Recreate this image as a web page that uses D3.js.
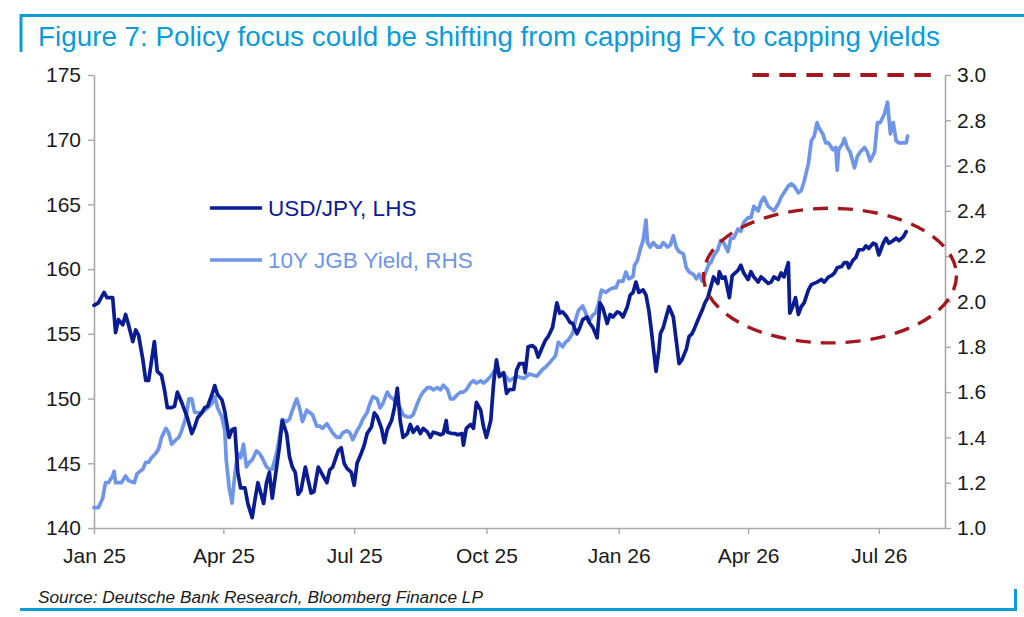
<!DOCTYPE html>
<html><head><meta charset="utf-8">
<script src="https://cdn.jsdelivr.net/npm/d3@7"></script>
<style>
html,body{margin:0;padding:0;background:#fff;}
svg{display:block;font-family:"Liberation Sans",Arial,Helvetica,sans-serif;}
</style></head><body>
<svg id="chart" width="1024" height="617"></svg>
<script>
// ---------------- DATA ----------------
const titleText = "Figure 7: Policy focus could be shifting from capping FX to capping yields";
const sourceText = "Source: Deutsche Bank Research, Bloomberg Finance LP";
const seriesNames = ["USD/JPY, LHS", "10Y JGB Yield, RHS"];

const usdDates = ["2025-01-01","2025-01-04","2025-01-08","2025-01-10","2025-01-14","2025-01-16","2025-01-18","2025-01-21","2025-01-23","2025-01-25","2025-01-28","2025-01-30","2025-02-01","2025-02-04","2025-02-06","2025-02-08","2025-02-12","2025-02-14","2025-02-17","2025-02-19","2025-02-21","2025-02-24","2025-02-26","2025-02-28","2025-03-03","2025-03-05","2025-03-07","2025-03-10","2025-03-12","2025-03-14","2025-03-17","2025-03-19","2025-03-21","2025-03-24","2025-03-26","2025-03-28","2025-03-31","2025-04-02","2025-04-03","2025-04-05","2025-04-07","2025-04-09","2025-04-10","2025-04-11","2025-04-13","2025-04-16","2025-04-18","2025-04-21","2025-04-23","2025-04-25","2025-04-27","2025-04-29","2025-05-01","2025-05-03","2025-05-05","2025-05-08","2025-05-10","2025-05-12","2025-05-15","2025-05-17","2025-05-19","2025-05-21","2025-05-23","2025-05-25","2025-05-28","2025-05-30","2025-06-01","2025-06-03","2025-06-06","2025-06-08","2025-06-12","2025-06-14","2025-06-16","2025-06-20","2025-06-22","2025-06-24","2025-06-26","2025-06-29","2025-07-01","2025-07-03","2025-07-06","2025-07-08","2025-07-10","2025-07-13","2025-07-15","2025-07-17","2025-07-20","2025-07-22","2025-07-24","2025-07-27","2025-07-29","2025-07-31","2025-08-02","2025-08-04","2025-08-07","2025-08-09","2025-08-11","2025-08-14","2025-08-16","2025-08-18","2025-08-21","2025-08-23","2025-08-25","2025-08-28","2025-08-30","2025-09-01","2025-09-03","2025-09-04","2025-09-07","2025-09-09","2025-09-11","2025-09-14","2025-09-15","2025-09-17","2025-09-20","2025-09-22","2025-09-24","2025-09-27","2025-09-29","2025-10-01","2025-10-04","2025-10-06","2025-10-08","2025-10-10","2025-10-13","2025-10-15","2025-10-17","2025-10-20","2025-10-22","2025-10-24","2025-10-27","2025-10-28","2025-10-30","2025-11-02","2025-11-04","2025-11-06","2025-11-09","2025-11-11","2025-11-13","2025-11-16","2025-11-19","2025-11-21","2025-11-23","2025-11-26","2025-11-28","2025-11-30","2025-12-03","2025-12-05","2025-12-07","2025-12-10","2025-12-12","2025-12-14","2025-12-17","2025-12-19","2025-12-21","2025-12-24","2025-12-26","2025-12-28","2025-12-31","2026-01-02","2026-01-04","2026-01-07","2026-01-09","2026-01-11","2026-01-13","2026-01-15","2026-01-18","2026-01-20","2026-01-22","2026-01-24","2026-01-25","2026-01-27","2026-01-29","2026-01-30","2026-02-01","2026-02-03","2026-02-05","2026-02-08","2026-02-10","2026-02-12","2026-02-14","2026-02-17","2026-02-19","2026-02-21","2026-02-23","2026-02-26","2026-02-28","2026-03-02","2026-03-04","2026-03-06","2026-03-08","2026-03-11","2026-03-12","2026-03-14","2026-03-16","2026-03-19","2026-03-21","2026-03-25","2026-03-27","2026-03-29","2026-04-01","2026-04-03","2026-04-05","2026-04-08","2026-04-10","2026-04-12","2026-04-15","2026-04-17","2026-04-19","2026-04-22","2026-04-24","2026-04-26","2026-04-29","2026-04-30","2026-05-02","2026-05-04","2026-05-06","2026-05-08","2026-05-10","2026-05-13","2026-05-15","2026-05-17","2026-05-19","2026-05-22","2026-05-24","2026-05-27","2026-05-29","2026-05-31","2026-06-02","2026-06-05","2026-06-07","2026-06-09","2026-06-10","2026-06-13","2026-06-15","2026-06-17","2026-06-20","2026-06-22","2026-06-24","2026-06-27","2026-06-29","2026-07-01","2026-07-04","2026-07-06","2026-07-08","2026-07-11","2026-07-13","2026-07-15","2026-07-18","2026-07-20"];
const usdValues = [157.2,157.4,158.2,157.8,157.8,155.1,156.1,155.7,156.5,155.7,154.4,155.3,154.9,153.0,151.4,151.4,154.4,152.1,151.8,150.7,149.3,149.3,149.4,150.5,149.7,149.1,148.5,147.3,147.8,148.5,148.9,149.3,149.4,150.3,151.0,150.3,149.9,149.0,148.3,147.0,147.6,147.7,146.0,144.3,143.1,143.1,141.9,140.8,142.2,143.5,142.7,141.9,143.5,144.3,142.3,144.7,146.3,148.3,147.3,145.5,144.7,144.3,142.6,142.9,144.7,143.7,142.7,142.8,144.7,144.3,143.5,144.5,144.7,146.0,146.2,145.0,144.6,144.3,143.3,145.0,145.8,146.4,147.3,147.8,148.9,148.6,147.7,146.6,147.6,148.3,149.3,150.8,148.3,147.0,147.3,148.0,147.4,147.8,147.3,147.7,147.4,147.0,147.4,147.3,147.2,147.3,148.3,147.4,147.3,147.3,147.2,147.3,146.4,147.7,148.0,147.7,149.7,149.1,147.8,147.0,148.3,151.2,153.0,151.7,152.0,150.4,150.7,150.7,152.2,152.7,152.7,152.0,154.0,154.1,153.9,153.2,154.0,154.5,154.8,155.5,157.4,156.6,156.7,156.3,155.9,155.8,155.0,155.5,156.1,156.3,155.8,155.5,154.7,157.4,157.0,155.8,156.5,156.3,156.7,156.6,156.3,157.1,158.0,158.2,159.0,158.2,158.4,158.0,156.8,155.0,154.0,152.1,153.8,155.0,155.5,156.3,157.1,156.3,154.5,152.7,153.0,153.8,154.8,155.0,155.5,156.3,156.8,157.4,157.8,158.6,159.4,158.9,159.8,159.3,159.4,157.8,159.5,159.9,160.3,159.7,159.2,159.8,159.4,159.0,159.4,159.2,158.9,159.0,159.4,159.2,159.7,159.4,160.5,156.6,157.1,157.8,156.5,157.1,157.4,158.4,158.8,158.9,159.0,159.2,159.0,159.4,159.5,159.7,160.1,160.2,160.5,160.5,160.1,160.7,160.9,161.5,161.5,161.8,161.6,162.0,161.9,161.1,162.0,162.4,162.0,162.2,162.4,162.2,162.5,162.9];

const jgbDates = ["2025-01-01","2025-01-04","2025-01-07","2025-01-09","2025-01-11","2025-01-14","2025-01-15","2025-01-16","2025-01-20","2025-01-23","2025-01-25","2025-01-29","2025-01-31","2025-02-04","2025-02-06","2025-02-08","2025-02-10","2025-02-13","2025-02-15","2025-02-17","2025-02-20","2025-02-22","2025-02-24","2025-02-27","2025-03-01","2025-03-03","2025-03-06","2025-03-08","2025-03-10","2025-03-12","2025-03-14","2025-03-17","2025-03-19","2025-03-21","2025-03-24","2025-03-26","2025-03-28","2025-03-31","2025-04-02","2025-04-03","2025-04-05","2025-04-07","2025-04-09","2025-04-11","2025-04-13","2025-04-15","2025-04-17","2025-04-19","2025-04-21","2025-04-24","2025-04-26","2025-04-28","2025-05-01","2025-05-03","2025-05-05","2025-05-08","2025-05-10","2025-05-12","2025-05-15","2025-05-17","2025-05-19","2025-05-22","2025-05-24","2025-05-26","2025-05-29","2025-05-31","2025-06-02","2025-06-05","2025-06-07","2025-06-09","2025-06-12","2025-06-14","2025-06-16","2025-06-19","2025-06-21","2025-06-23","2025-06-26","2025-06-28","2025-06-30","2025-07-03","2025-07-05","2025-07-07","2025-07-10","2025-07-12","2025-07-14","2025-07-17","2025-07-19","2025-07-21","2025-07-24","2025-07-26","2025-07-28","2025-07-31","2025-08-02","2025-08-04","2025-08-07","2025-08-09","2025-08-11","2025-08-14","2025-08-16","2025-08-18","2025-08-21","2025-08-23","2025-08-25","2025-08-28","2025-08-30","2025-09-01","2025-09-04","2025-09-06","2025-09-08","2025-09-11","2025-09-13","2025-09-15","2025-09-17","2025-09-20","2025-09-22","2025-09-24","2025-09-27","2025-09-29","2025-10-01","2025-10-04","2025-10-06","2025-10-08","2025-10-10","2025-10-13","2025-10-17","2025-10-22","2025-10-27","2025-10-31","2025-11-05","2025-11-09","2025-11-11","2025-11-14","2025-11-18","2025-11-20","2025-11-23","2025-11-25","2025-11-27","2025-11-30","2025-12-02","2025-12-04","2025-12-07","2025-12-09","2025-12-11","2025-12-14","2025-12-16","2025-12-18","2025-12-20","2025-12-23","2025-12-25","2025-12-28","2025-12-30","2026-01-01","2026-01-04","2026-01-06","2026-01-08","2026-01-11","2026-01-12","2026-01-14","2026-01-16","2026-01-18","2026-01-20","2026-01-21","2026-01-23","2026-01-25","2026-01-28","2026-01-30","2026-02-01","2026-02-04","2026-02-06","2026-02-08","2026-02-10","2026-02-12","2026-02-15","2026-02-17","2026-02-19","2026-02-22","2026-02-24","2026-02-26","2026-02-28","2026-03-02","2026-03-05","2026-03-06","2026-03-08","2026-03-11","2026-03-13","2026-03-15","2026-03-18","2026-03-20","2026-03-22","2026-03-25","2026-03-27","2026-03-29","2026-04-01","2026-04-03","2026-04-05","2026-04-08","2026-04-10","2026-04-12","2026-04-15","2026-04-17","2026-04-19","2026-04-22","2026-04-24","2026-04-26","2026-04-29","2026-05-01","2026-05-03","2026-05-06","2026-05-08","2026-05-10","2026-05-13","2026-05-15","2026-05-17","2026-05-19","2026-05-20","2026-05-23","2026-05-25","2026-05-27","2026-05-30","2026-06-01","2026-06-02","2026-06-03","2026-06-06","2026-06-07","2026-06-09","2026-06-11","2026-06-14","2026-06-16","2026-06-18","2026-06-21","2026-06-23","2026-06-25","2026-06-28","2026-06-30","2026-07-02","2026-07-05","2026-07-07","2026-07-09","2026-07-11","2026-07-13","2026-07-15","2026-07-18","2026-07-20","2026-07-21"];
const jgbValues = [1.09,1.09,1.13,1.20,1.20,1.23,1.25,1.20,1.20,1.23,1.21,1.20,1.24,1.26,1.29,1.29,1.31,1.33,1.35,1.40,1.44,1.42,1.37,1.39,1.40,1.43,1.49,1.57,1.57,1.51,1.51,1.51,1.52,1.53,1.55,1.58,1.53,1.49,1.43,1.30,1.18,1.11,1.24,1.33,1.31,1.37,1.27,1.29,1.30,1.34,1.33,1.31,1.27,1.26,1.26,1.33,1.40,1.48,1.47,1.48,1.52,1.57,1.53,1.47,1.52,1.51,1.50,1.45,1.45,1.44,1.46,1.44,1.42,1.40,1.40,1.42,1.43,1.42,1.39,1.43,1.45,1.48,1.51,1.55,1.58,1.57,1.53,1.55,1.60,1.58,1.57,1.55,1.53,1.50,1.49,1.49,1.50,1.55,1.58,1.60,1.62,1.62,1.61,1.62,1.61,1.63,1.61,1.57,1.57,1.59,1.60,1.60,1.61,1.64,1.65,1.64,1.65,1.64,1.65,1.67,1.69,1.69,1.68,1.68,1.65,1.67,1.66,1.68,1.67,1.70,1.71,1.73,1.76,1.82,1.80,1.82,1.83,1.86,1.92,1.96,1.98,1.95,1.91,1.94,1.95,1.99,2.05,2.04,2.05,2.06,2.06,2.09,2.09,2.13,2.10,2.11,2.16,2.18,2.23,2.27,2.36,2.26,2.24,2.26,2.24,2.24,2.26,2.24,2.25,2.29,2.24,2.22,2.21,2.15,2.13,2.12,2.10,2.12,2.09,2.12,2.17,2.17,2.20,2.23,2.27,2.26,2.22,2.28,2.28,2.32,2.31,2.35,2.37,2.37,2.42,2.40,2.44,2.46,2.42,2.41,2.40,2.43,2.46,2.48,2.51,2.52,2.51,2.48,2.49,2.53,2.61,2.71,2.73,2.79,2.77,2.74,2.70,2.70,2.67,2.68,2.58,2.67,2.70,2.72,2.68,2.66,2.59,2.64,2.66,2.68,2.66,2.62,2.66,2.79,2.79,2.83,2.88,2.74,2.79,2.71,2.70,2.70,2.70,2.73];

const leftTicks = [140, 145, 150, 155, 160, 165, 170, 175];
const rightTicks = [1.0, 1.2, 1.4, 1.6, 1.8, 2.0, 2.2, 2.4, 2.6, 2.8, 3.0];
const xTickDates = ["2025-01-01","2025-04-01","2025-07-01","2025-10-01","2026-01-01","2026-04-01","2026-07-01"];
const xTickLabels = ["Jan 25","Apr 25","Jul 25","Oct 25","Jan 26","Apr 26","Jul 26"];
const xDomain = ["2025-01-01","2026-08-16"];

// annotations (data units)
const capLevel = 3.0;                       // RHS
const capRange = ["2026-04-04","2026-08-08"];
const ringCenter = ["2026-05-28", 159.5];   // date, LHS
const ringHalfDays = 88;
const ringHalfLHS = 5.2;

// ---------------- DRAW ----------------
const parse = d3.timeParse("%Y-%m-%d");
const svg = d3.select("#chart");
const C = {title:"#0a9bd8", usd:"#0a1c92", jgb:"#6f95e8", red:"#a3181f", axis:"#a8a8a8", text:"#1a1a1a"};
const L = 94, R = 945, T = 75, B = 528;

const x = d3.scaleTime().domain(xDomain.map(parse)).range([L, R]);
const yL = d3.scaleLinear().domain([140, 175]).range([B, T]);
const yR = d3.scaleLinear().domain([1.0, 3.0]).range([B, T]);

// frame lines
svg.append("path").attr("d", `M21,52 V15.5 H1024`).attr("fill","none").attr("stroke",C.title).attr("stroke-width",3);
svg.append("path").attr("d", `M20,609.5 H1015.5 V589`).attr("fill","none").attr("stroke",C.title).attr("stroke-width",3);

function fitText(sel, w) {
  const n = sel.node(); const cur = n.getComputedTextLength();
  const fs = parseFloat(sel.attr("font-size"));
  sel.attr("font-size", (fs * w / cur).toFixed(2));
}
const title = svg.append("text").attr("x",38).attr("y",46).attr("font-size",28).attr("fill",C.title).text(titleText);
fitText(title, 902);
const src = svg.append("text").attr("x",38).attr("y",603).attr("font-size",16).attr("font-style","italic").attr("fill",C.text).text(sourceText);
fitText(src, 445);

function styleAxis(g) {
  g.select(".domain").attr("stroke", C.axis).attr("stroke-width", 1.6);
  g.selectAll(".tick line").attr("stroke", C.axis).attr("stroke-width", 1.4);
  g.selectAll(".tick text").attr("fill", C.text).attr("font-size", 21).attr("font-family", '"Liberation Sans",Arial,sans-serif');
}
svg.append("g").attr("transform",`translate(${L},0)`)
  .call(d3.axisLeft(yL).tickValues(leftTicks).tickSize(6).tickSizeOuter(0).tickPadding(7))
  .call(styleAxis);
svg.append("g").attr("transform",`translate(${R},0)`)
  .call(d3.axisRight(yR).tickValues(rightTicks).tickFormat(d3.format(".1f")).tickSize(6).tickSizeOuter(0).tickPadding(6))
  .call(styleAxis);
const xTicks = xTickDates.map(parse);
svg.append("g").attr("transform",`translate(0,${B})`)
  .call(d3.axisBottom(x).tickValues(xTicks).tickFormat((d,i)=>xTickLabels[i]).tickSize(6).tickSizeOuter(0).tickPadding(14))
  .call(styleAxis);

// series
const usd = usdDates.map((d,i)=>({date:parse(d), v:usdValues[i]}));
const jgb = jgbDates.map((d,i)=>({date:parse(d), v:jgbValues[i]}));
const lineL = d3.line().x(d=>x(d.date)).y(d=>yL(d.v));
const lineR = d3.line().x(d=>x(d.date)).y(d=>yR(d.v));
svg.append("path").datum(jgb).attr("d", lineR).attr("fill","none").attr("stroke",C.jgb).attr("stroke-width",3.7).attr("stroke-linejoin","round").attr("stroke-linecap","round");
svg.append("path").datum(usd).attr("d", lineL).attr("fill","none").attr("stroke",C.usd).attr("stroke-width",3.7).attr("stroke-linejoin","round").attr("stroke-linecap","round");

// annotations
svg.append("line")
  .attr("x1", x(parse(capRange[0]))).attr("x2", x(parse(capRange[1])))
  .attr("y1", yR(capLevel)).attr("y2", yR(capLevel))
  .attr("stroke", C.red).attr("stroke-width", 4).attr("stroke-dasharray","16.5,10.5");
const cDate = parse(ringCenter[0]);
const cx = x(cDate), cy = yL(ringCenter[1]);
const rx = x(d3.timeDay.offset(cDate, ringHalfDays)) - cx;
const ry = yL(ringCenter[1] - ringHalfLHS) - cy;
svg.append("ellipse").attr("cx",cx).attr("cy",cy).attr("rx",rx).attr("ry",ry)
  .attr("fill","none").attr("stroke",C.red).attr("stroke-width",3.4).attr("stroke-dasharray","15,10");

// legend
const legend = [{name:seriesNames[0], color:C.usd, y:208},{name:seriesNames[1], color:C.jgb, y:260}];
const lg = svg.append("g");
legend.forEach(it=>{
  lg.append("line").attr("x1",210).attr("x2",262).attr("y1",it.y).attr("y2",it.y).attr("stroke",it.color).attr("stroke-width",3.7);
  lg.append("text").attr("x",268).attr("y",it.y).attr("dy","0.36em").attr("font-size",22.5).attr("fill",it.color).text(it.name);
});
</script>
</body></html>
